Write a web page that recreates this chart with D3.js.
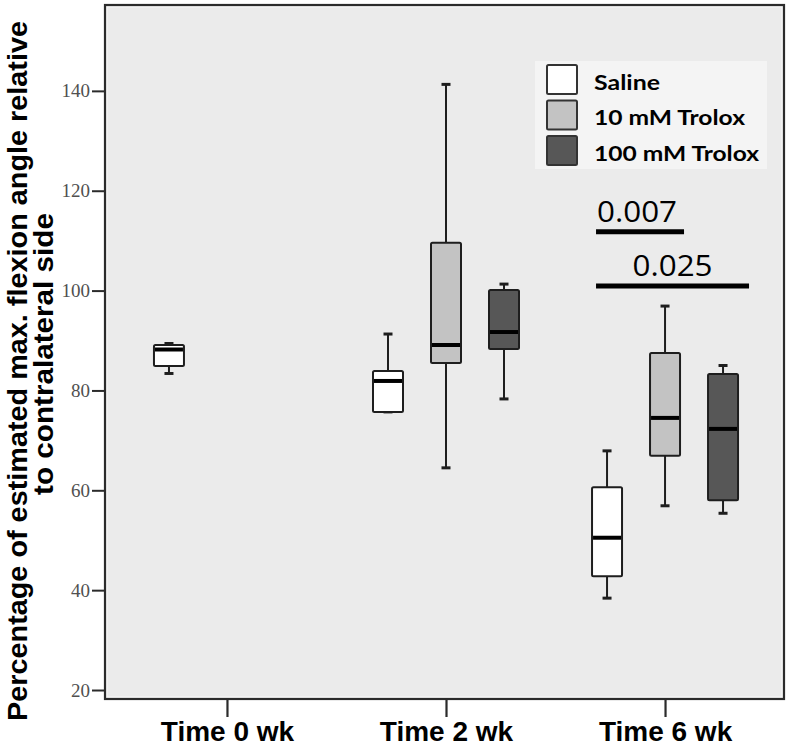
<!DOCTYPE html>
<html><head><meta charset="utf-8">
<script src="https://cdn.jsdelivr.net/npm/d3@7"></script>
<style>body{margin:0;background:#fff}</style>
</head><body><svg id="c" width="791" height="748"></svg>
<script>
const categories = ["Time 0 wk", "Time 2 wk", "Time 6 wk"];
const seriesNames = ["Saline", "10 mM Trolox", "100 mM Trolox"];
// [min, q1, median, q3, max] for each category
const saline    = [[83.4, 84.9, 88.2, 89.1, 89.4], [75.7, 75.7, 81.9, 83.9, 91.3], [38.4, 42.8, 50.5, 60.6, 67.9]];
const trolox10  = [null, [64.5, 85.5, 89.1, 109.6, 141.3], [56.9, 66.9, 74.5, 87.5, 96.9]];
const trolox100 = [null, [78.3, 88.3, 91.7, 100.1, 101.3], [55.4, 58.0, 72.3, 83.3, 85.0]];
const yTicks = [20, 40, 60, 80, 100, 120, 140];
const sigLabels = ["0.007", "0.025"];
const sigLevels = [111.8, 100.9];
const sigPairs = [["Saline", "10 mM Trolox"], ["Saline", "100 mM Trolox"]];
const sigCategory = "Time 6 wk";
const yLabelLines = ["Percentage of estimated max. flexion angle relative", "to contralateral side"];

const seriesData = [saline, trolox10, trolox100];
const seriesFill = ["#ffffff", "#c3c3c3", "#575757"];

const svg = d3.select("#c");
const F = {left: 105, right: 784, top: 5, bottom: 699};

const y = d3.scaleLinear().domain([18.2, 157.2]).range([F.bottom, F.top]);
const x = d3.scalePoint().domain(categories).range([106.5, 785.5]).padding(0.55);
const sub = d3.scalePoint().domain(seriesNames).range([-58, 58]);
const color = d3.scaleOrdinal().domain(seriesNames).range(seriesFill);
const boxW = 30;

// plot background & frame
svg.append("rect").attr("x", F.left).attr("y", F.top).attr("width", F.right - F.left).attr("height", F.bottom - F.top)
  .attr("fill", "#ebebeb");
svg.append("rect").attr("x", F.left + 2).attr("y", F.top + 2).attr("width", F.right - F.left - 4).attr("height", F.bottom - F.top - 4)
  .attr("fill", "none").attr("stroke", "#f8f8f8").attr("stroke-width", 1);
svg.append("rect").attr("x", F.left).attr("y", F.top).attr("width", F.right - F.left).attr("height", F.bottom - F.top)
  .attr("fill", "none").attr("stroke", "#2b2b2b").attr("stroke-width", 2.2);

// axes
const ya = svg.append("g").attr("transform", `translate(${F.left},0)`)
  .call(d3.axisLeft(y).tickValues(yTicks).tickSize(13).tickPadding(2).tickFormat(d3.format("d")));
ya.select(".domain").remove();
ya.selectAll(".tick line").attr("stroke", "#2b2b2b").attr("stroke-width", 2);
ya.selectAll(".tick text").attr("font-family", "'Liberation Serif','DejaVu Serif',serif").attr("font-size", 19)
  .attr("fill", "#505050");

const xa = svg.append("g").attr("transform", `translate(0,${F.bottom})`)
  .call(d3.axisBottom(x).tickSize(18));
xa.select(".domain").remove();
xa.selectAll(".tick line").attr("stroke", "#2b2b2b").attr("stroke-width", 2.2);
xa.selectAll(".tick text").attr("font-family", "'Liberation Sans',Arial,sans-serif").attr("font-weight", "bold")
  .attr("font-size", 28).attr("fill", "#000").attr("y", 42).attr("dy", 0);

// y label
const ylabPos = [[27, 371, 700], [53, 354, 282]];
yLabelLines.forEach((t, i) => {
  svg.append("text").attr("transform", `translate(${ylabPos[i][0]},${ylabPos[i][1]}) rotate(-90)`)
    .attr("text-anchor", "middle").attr("font-family", "'Liberation Sans',Arial,sans-serif")
    .attr("font-weight", "bold").attr("font-size", 28.5).attr("fill", "#000")
    .attr("textLength", ylabPos[i][2]).attr("lengthAdjust", "spacingAndGlyphs").text(t);
});

// boxes
const boxes = [];
seriesNames.forEach((s, si) => {
  categories.forEach((c, ci) => {
    const d = seriesData[si][ci];
    if (d) boxes.push({series: s, cat: c, min: d[0], q1: d[1], med: d[2], q3: d[3], max: d[4]});
  });
});
const bg = svg.append("g").selectAll("g").data(boxes).join("g")
  .attr("transform", d => `translate(${x(d.cat) + sub(d.series)},0)`);
bg.append("line").attr("y1", d => y(d.max)).attr("y2", d => y(d.q3)).attr("stroke", "#1e1e1e").attr("stroke-width", 2);
bg.append("line").attr("y1", d => y(d.min)).attr("y2", d => y(d.q1)).attr("stroke", "#1e1e1e").attr("stroke-width", 2);
bg.append("line").attr("x1", -4.5).attr("x2", 4.5).attr("y1", d => y(d.max)).attr("y2", d => y(d.max))
  .attr("stroke", "#1e1e1e").attr("stroke-width", 3);
bg.append("line").attr("x1", -4.5).attr("x2", 4.5).attr("y1", d => y(d.min)).attr("y2", d => y(d.min))
  .attr("stroke", "#1e1e1e").attr("stroke-width", 3);
bg.append("rect").attr("x", -boxW / 2).attr("width", boxW).attr("y", d => y(d.q3))
  .attr("height", d => y(d.q1) - y(d.q3)).attr("rx", 1.5)
  .attr("fill", d => color(d.series)).attr("stroke", "#1e1e1e").attr("stroke-width", 2);
bg.append("line").attr("x1", -boxW / 2 + 1).attr("x2", boxW / 2 - 1).attr("y1", d => y(d.med)).attr("y2", d => y(d.med))
  .attr("stroke", "#000").attr("stroke-width", 4);

// legend
svg.append("rect").attr("x", 535).attr("y", 61).attr("width", 232).attr("height", 108).attr("fill", "#f4f4f4");
const lg = svg.append("g").selectAll("g").data(seriesNames).join("g")
  .attr("transform", (d, i) => `translate(547,${65 + i * 35.5})`);
lg.append("rect").attr("width", 30).attr("height", 29).attr("rx", 1.5)
  .attr("fill", d => color(d)).attr("stroke", "#333").attr("stroke-width", 2);
const legLen = [66, 151, 165];
lg.append("text").attr("x", 47).attr("y", 24.5).attr("font-family", "Lato,'Open Sans',sans-serif")
  .attr("font-weight", "bold").attr("font-size", 21).attr("fill", "#000")
  .attr("textLength", (d, i) => legLen[i]).attr("lengthAdjust", "spacingAndGlyphs").text(d => d);

// significance bars
const sigEndPad = [19, 26];
const sigTextShift = [-3, 0];
sigPairs.forEach((p, i) => {
  const x1 = x(sigCategory) + sub(p[0]) - boxW / 2 + 4;
  const x2 = x(sigCategory) + sub(p[1]) + sigEndPad[i];
  svg.append("line").attr("x1", x1).attr("x2", x2).attr("y1", y(sigLevels[i])).attr("y2", y(sigLevels[i]))
    .attr("stroke", "#000").attr("stroke-width", 5);
  svg.append("text").attr("x", (x1 + x2) / 2 + sigTextShift[i]).attr("y", y(sigLevels[i]) - 10)
    .attr("text-anchor", "middle").attr("font-family", "'Open Sans',Lato,sans-serif").attr("font-size", 29)
    .attr("fill", "#000").attr("textLength", 80).attr("lengthAdjust", "spacingAndGlyphs").text(sigLabels[i]);
});
</script></body></html>
